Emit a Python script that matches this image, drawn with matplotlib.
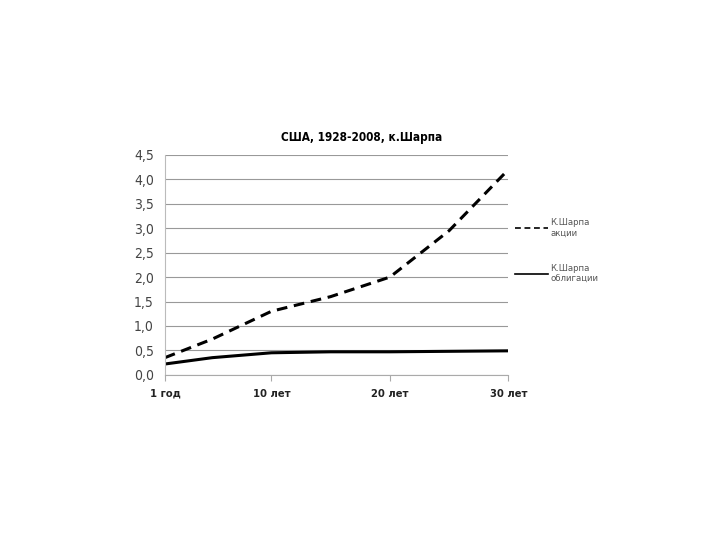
import numpy as np
import matplotlib.pyplot as plt

plt.rcParams['font.family'] = ['DejaVu Sans']
plt.rcParams['font.stretch'] = 'condensed'

# years on the horizontal axis and Sharpe ratios
years = [1, 5, 10, 15, 20, 25, 30]
sharpe_stocks = [0.35, 0.73, 1.30, 1.60, 2.00, 2.95, 4.20]
sharpe_bonds = [0.22, 0.35, 0.45, 0.47, 0.47, 0.48, 0.49]
tick_years = [1, 10, 20, 30]
tick_labels = ['1 год', '10 лет', '20 лет', '30 лет']
y_ticks = np.arange(0, 4.51, 0.5)

fig = plt.figure(figsize=(7.2, 5.4), dpi=100)
ax = fig.add_axes([0.229, 0.306, 0.477, 0.407])

ax.plot(years, sharpe_stocks, color='black', lw=2.2, ls=(0, (3.5, 2.2)),
        label='К.Шарпа\nакции')
ax.plot(years, sharpe_bonds, color='black', lw=2.2, label='К.Шарпа\nоблигации')

ax.set_xlim(1, 30)
ax.set_ylim(0, 4.5)
ax.set_yticks(y_ticks)
ax.set_yticklabels([f'{v:.1f}'.replace('.', ',') for v in y_ticks], fontsize=10, color='#444444')
ax.set_xticks(tick_years)
ax.set_xticklabels(tick_labels, fontsize=8, fontweight='bold', color='#222222')
ax.tick_params(axis='y', length=0, pad=8)
ax.tick_params(axis='x', length=4, color='#aaaaaa', pad=6)
ax.yaxis.grid(True, color='#999999', lw=0.8)
ax.set_axisbelow(True)
for s in ['top', 'right']:
    ax.spines[s].set_visible(False)
ax.spines['left'].set_color('#bbbbbb')
ax.spines['bottom'].set_color('#aaaaaa')

fig.text(0.502, 0.745, 'США, 1928-2008, к.Шарпа', fontsize=8.5, fontweight='bold',
         ha='center', va='center')

leg = ax.legend(loc='upper left', bbox_to_anchor=(0.995, 0.75), frameon=False,
                fontsize=6.8, handlelength=3.5, labelspacing=2.75, handletextpad=0.2)
for h in leg.get_lines():
    h.set_linewidth(1.2)
for t in leg.get_texts():
    t.set_color('#555555')

fig.savefig('out.png', dpi=100)
